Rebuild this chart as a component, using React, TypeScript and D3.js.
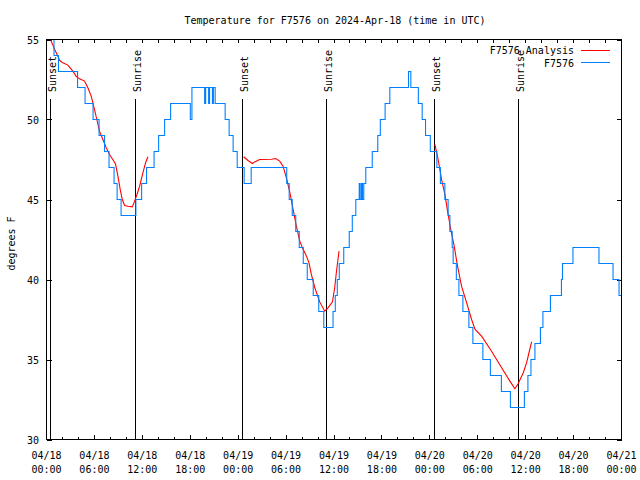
import React from "react";
import * as d3 from "d3";

// ---------- data ----------
const titleText = "Temperature for F7576 on 2024-Apr-18 (time in UTC)";
const yLabel = "degrees F";
const startDate = Date.UTC(2024, 3, 18, 0, 0);
const endDate = Date.UTC(2024, 3, 21, 0, 0);
const yTicks = [30, 35, 40, 45, 50, 55];

// observed station readings: [hours since 04/18 00:00 UTC, degrees F] (step changes)
const stationSteps: [number, number][] = [
  [0.59, 55], [0.94, 54], [1.5, 53], [3.89, 52], [4.83, 51], [5.83, 50], [6.58, 49],
  [7.27, 48], [7.83, 47], [8.46, 46], [8.84, 45], [9.34, 44], [11.19, 45], [11.91, 46],
  [12.53, 47], [13.47, 48], [14.04, 49], [14.79, 50], [15.54, 51], [18.01, 50], [18.21, 52],
  [19.8, 51], [19.93, 52], [20.3, 51], [20.42, 52], [20.78, 51], [20.9, 52], [21.12, 51],
  [22.37, 50], [22.87, 49], [23.37, 48], [23.88, 47], [24.75, 46], [25.63, 47], [30.08, 46],
  [30.39, 45], [30.77, 44], [31.21, 43], [31.65, 42], [32.15, 41], [32.65, 40], [33.4, 39],
  [34.09, 38], [34.72, 37], [35.88, 38], [36.16, 39], [36.41, 40], [36.66, 41], [37.22, 42],
  [37.91, 43], [38.29, 44], [38.73, 45], [39.16, 46], [39.28, 45], [39.45, 46], [39.57, 45],
  [39.73, 46], [39.98, 47], [40.79, 48], [41.48, 49], [41.8, 50], [42.4, 51], [42.99, 52],
  [45.33, 53], [45.62, 52], [46.56, 51], [47.04, 50], [47.46, 49], [48.06, 48], [48.88, 47],
  [49.32, 46], [49.88, 45], [50.29, 44], [50.51, 43], [50.8, 42], [50.92, 41], [51.32, 40],
  [51.64, 39], [52.14, 38], [52.89, 37], [53.39, 36], [54.64, 35], [55.58, 34], [56.96, 33],
  [58.09, 32], [59.84, 33], [60.28, 34], [60.66, 35], [61.16, 36], [61.85, 37], [62.16, 38],
  [63.1, 39], [64.48, 40], [64.61, 41], [65.92, 42], [69.18, 41], [70.94, 40], [71.69, 39],
  [72, 39],
];

// analysis curve, three night-time segments
const analysisNight1: [number, number][] = [
  [0.55, 55.05], [0.59, 54.9], [1.0, 54.4], [1.42, 53.96], [1.63, 53.7], [2.04, 53.54],
  [2.67, 53.4], [3.3, 53.02], [3.72, 52.7], [4.14, 52.54], [4.76, 52.4], [5.18, 51.98],
  [5.6, 51.46], [6.02, 50.6], [6.3, 50.0], [6.64, 49.27], [7.06, 48.75], [7.48, 48.23],
  [7.9, 47.8], [8.31, 47.5], [8.65, 47.2], [8.94, 46.46], [9.24, 45.6], [9.49, 45.0],
  [9.78, 44.63], [10.19, 44.58], [10.74, 44.54], [11.03, 44.9], [11.32, 45.3], [11.66, 45.83],
  [12.07, 46.67], [12.41, 47.3], [12.7, 47.67],
];
const analysisNight2: [number, number][] = [
  [24.69, 47.67], [25.23, 47.44], [25.78, 47.25], [26.07, 47.35], [26.69, 47.5], [28.16, 47.52],
  [28.7, 47.56], [29.2, 47.4], [29.62, 47.08], [30.04, 46.35], [30.45, 45.5], [30.87, 44.4],
  [31.29, 43.33], [31.71, 42.4], [32.12, 41.9], [32.55, 41.46], [32.87, 41.04], [33.17, 40.3],
  [33.59, 39.5], [34.21, 38.6], [34.84, 38.02], [35.25, 38.23], [35.81, 38.6], [36.09, 39.5],
  [36.31, 40.5], [36.63, 41.77],
];
const analysisNight3: [number, number][] = [
  [48.63, 48.44], [49.04, 47.5], [49.47, 46.25], [49.89, 45.3], [50.22, 44.27], [50.63, 43.1],
  [51.05, 42.08], [51.47, 40.83], [51.97, 39.58], [52.61, 38.54], [53.23, 37.5], [53.65, 36.9],
  [54.48, 36.46], [55.73, 35.52], [56.99, 34.48], [58.03, 33.65], [58.65, 33.17], [59.07, 33.5],
  [59.7, 34.17], [60.12, 34.8], [60.45, 35.5], [60.75, 36.1],
];

const sunEventHours = [0.5, 11.14, 24.54, 35.06, 48.58, 59.1];
const sunEventLabels = ["Sunset", "Sunrise", "Sunset", "Sunrise", "Sunset", "Sunrise"];

const legendLabels = ["F7576 Analysis", "F7576"];
const analysisColor = "#ff0000";
const stationColor = "#0080ff";

// ---------- chart ----------
const W = 640;
const H = 480;
const L = 46.5, R = 621.5, T = 39.5, B = 439.5;
const FONT = "'DejaVu Sans Mono', 'Liberation Mono', monospace";

const toDate = (h: number) => new Date(startDate + h * 3600000);

export default function App() {
  const x = d3.scaleUtc().domain([new Date(startDate), new Date(endDate)]).range([L, R]);
  const y = d3.scaleLinear().domain([30, 55]).range([B, T]);

  const stepLine = d3
    .line<[number, number]>()
    .x((d) => x(toDate(d[0])))
    .y((d) => y(d[1]))
    .curve(d3.curveStepAfter);
  const smoothLine = d3
    .line<[number, number]>()
    .x((d) => x(toDate(d[0])))
    .y((d) => y(d[1]));

  const majorTicks = x.ticks(d3.utcHour.every(6) as any);
  const minorTicks = x.ticks(d3.utcHour.every(2) as any);
  const fmtDate = d3.utcFormat("%m/%d");
  const fmtTime = d3.utcFormat("%H:%M");

  return (
    <svg
      width={W}
      height={H}
      style={{ position: "absolute", left: 0, top: 0, background: "#fff" }}
      fontFamily={FONT}
      fontSize={10}
    >
      <defs>
        <clipPath id="plotclip">
          <rect x={L} y={T} width={R - L} height={B - T} />
        </clipPath>
      </defs>
      <rect x={0} y={0} width={W} height={H} fill="#fff" />

      {/* title */}
      <text x={335} y={23.5} textAnchor="middle" fill="#000">
        {titleText}
      </text>

      {/* y label */}
      <text transform={`translate(14.5,243.5) rotate(-90)`} textAnchor="middle" fill="#000">
        {yLabel}
      </text>

      {/* y ticks */}
      {yTicks.map((t) => (
        <g key={"y" + t}>
          <line x1={L} x2={L + 5} y1={Math.round(y(t)) + 0.5} y2={Math.round(y(t)) + 0.5} stroke="#000" shapeRendering="crispEdges" />
          <line x1={R} x2={R - 5} y1={Math.round(y(t)) + 0.5} y2={Math.round(y(t)) + 0.5} stroke="#000" shapeRendering="crispEdges" />
          <text x={39} y={y(t) + 4} textAnchor="end" fill="#000">
            {t}
          </text>
        </g>
      ))}

      {/* x ticks */}
      {minorTicks.map((d, i) => {
        const isMajor = d.getUTCHours() % 6 === 0;
        const px = Math.round(x(d) - 0.5) + 0.5;
        return (
          <g key={"xm" + i}>
            <line x1={px} x2={px} y1={B} y2={B - (isMajor ? 5 : 3)} stroke="#000" shapeRendering="crispEdges" />
            <line x1={px} x2={px} y1={T} y2={T + 3} stroke="#000" shapeRendering="crispEdges" />
          </g>
        );
      })}
      {majorTicks.map((d, i) => (
        <g key={"xl" + i}>
          <text x={x(d)} y={459} textAnchor="middle" fill="#000">
            {fmtDate(d)}
          </text>
          <text x={x(d)} y={473} textAnchor="middle" fill="#000">
            {fmtTime(d)}
          </text>
        </g>
      ))}

      {/* sunrise / sunset markers */}
      {sunEventHours.map((h, i) => {
        const px = Math.round(x(toDate(h)) - 0.5) + 0.5;
        return (
          <g key={"sun" + i}>
            <line x1={px} x2={px} y1={98.5} y2={B} stroke="#000" shapeRendering="crispEdges" />
            <text transform={`translate(${px + 5},92) rotate(-90)`} textAnchor="start" fill="#000">
              {sunEventLabels[i]}
            </text>
          </g>
        );
      })}

      {/* data */}
      <g clipPath="url(#plotclip)">
        {[analysisNight1, analysisNight2, analysisNight3].map((seg, i) => (
          <path key={"an" + i} d={smoothLine(seg) || ""} fill="none" stroke={analysisColor} strokeWidth={1.1} />
        ))}
        <path d={stepLine(stationSteps) || ""} fill="none" stroke={stationColor} strokeWidth={1.1} />
      </g>

      {/* border */}
      <rect x={L} y={T} width={R - L} height={B - T} fill="none" stroke="#000" shapeRendering="crispEdges" />

      {/* legend */}
      <text x={574} y={54} textAnchor="end" fill="#000">
        {legendLabels[0]}
      </text>
      <line x1={581} x2={610} y1={50.5} y2={50.5} stroke={analysisColor} shapeRendering="crispEdges" />
      <text x={574} y={67} textAnchor="end" fill="#000">
        {legendLabels[1]}
      </text>
      <line x1={581} x2={610} y1={62.5} y2={62.5} stroke={stationColor} shapeRendering="crispEdges" />
    </svg>
  );
}
